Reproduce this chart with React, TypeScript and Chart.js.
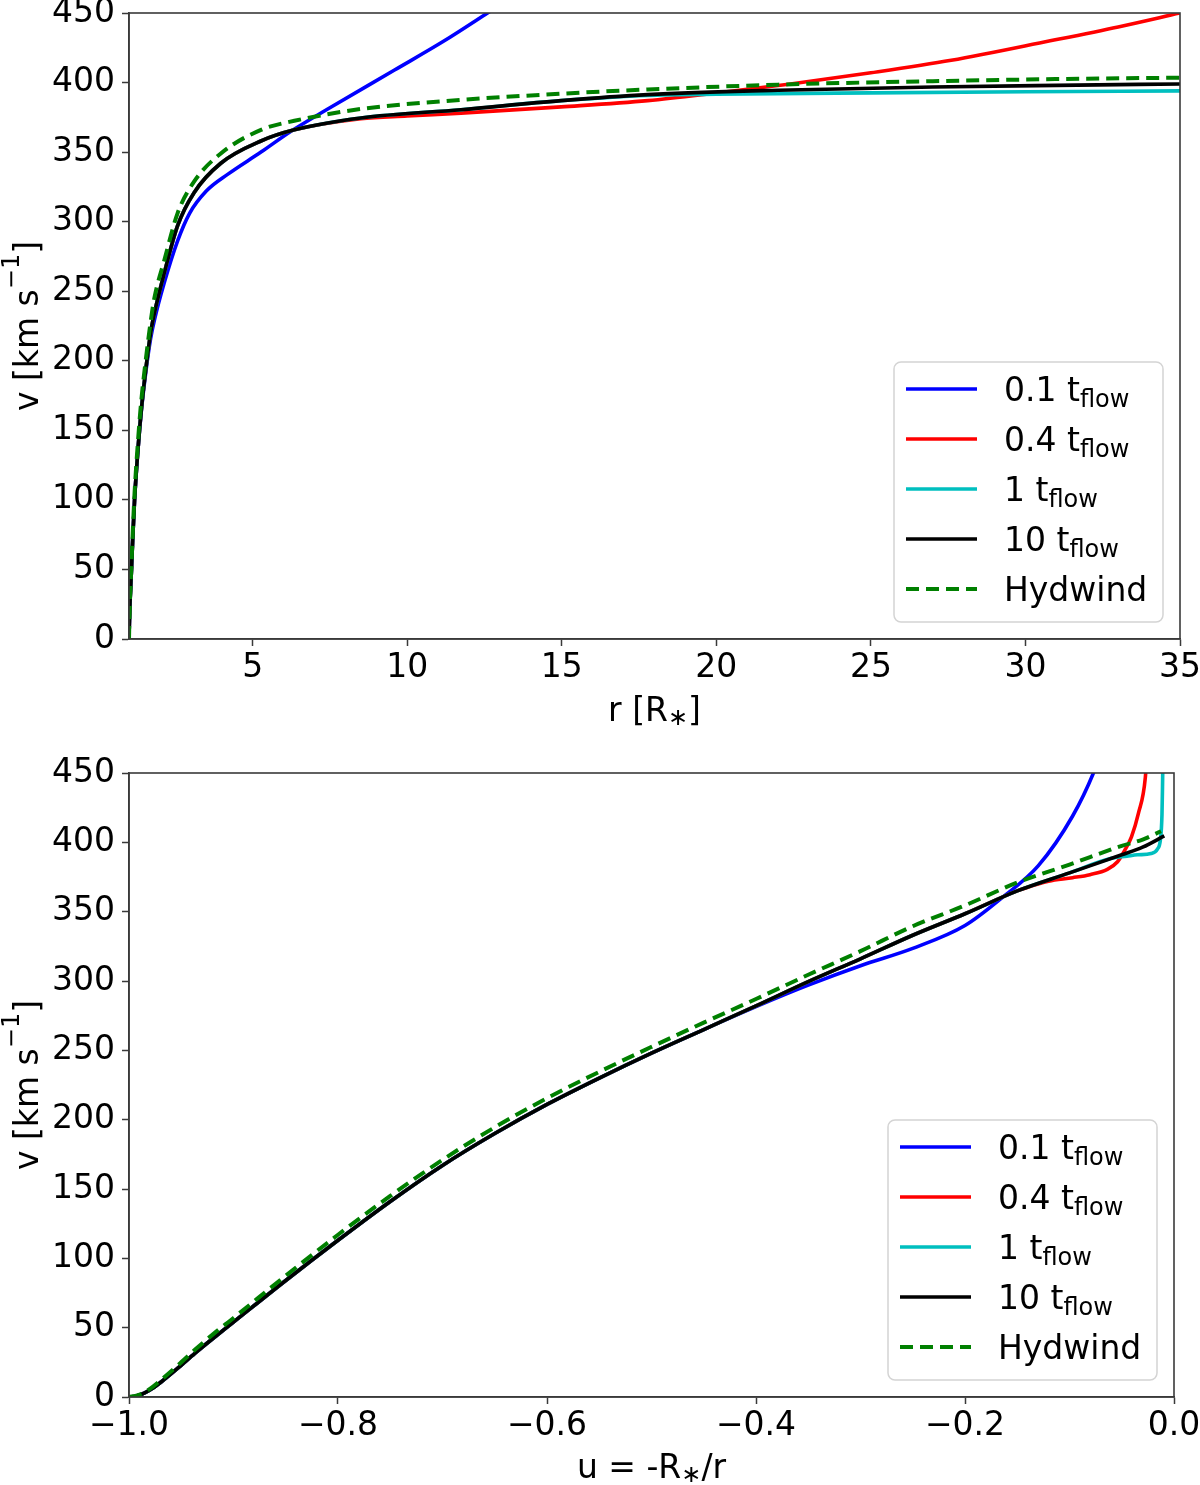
import React, { useEffect, useRef } from "react";
import { Chart, registerables } from "chart.js";

Chart.register(...registerables);

// ---------- legend / series labels ----------
const SERIES_MAIN = ["0.1 t", "0.4 t", "1 t", "10 t", "Hydwind"];
const SERIES_SUB = ["flow", "flow", "flow", "flow", ""];
const SERIES_COLORS = ["#0000ff", "#ff0000", "#00bfbf", "#000000", "#008000"];

// ---------- tick labels ----------
const Y_TICKS = [0, 50, 100, 150, 200, 250, 300, 350, 400, 450];
const TOP_X_TICKS = [5, 10, 15, 20, 25, 30, 35];
const BOT_X_TICKS = [-1.0, -0.8, -0.6, -0.4, -0.2, 0.0];

// ---------- top panel: v [km/s] vs r [R*] ----------
const TOP_BLUE_R = [1.0, 1.02, 1.07, 1.12, 1.18, 1.29, 1.4, 1.55, 1.7, 1.82, 2.14, 2.57, 2.96, 3.5, 4.19, 5.27, 6.24, 7.43, 9.59, 11.2, 12.6, 13.5];
const TOP_BLUE_V = [0, 18, 45, 72, 100, 136, 164, 193, 216, 229, 256, 286, 306, 322, 334, 350, 365, 381, 409, 430, 450, 463];

const TOP_RED_R = [1.0, 1.02, 1.07, 1.12, 1.18, 1.29, 1.4, 1.55, 1.7, 1.82, 2.14, 2.57, 3.11, 3.97, 5.27, 6.35, 8.5, 10, 11.74, 14.98, 17.78, 20, 22.4, 25, 27.6, 30.8, 33, 35];
const TOP_RED_V = [0, 18, 45, 72, 100, 136, 165, 195, 220, 234, 263, 297, 321, 342, 358, 366, 374, 376, 378, 382.5, 387, 392.5, 399, 407, 416, 430, 440, 450];

const TOP_CYAN_R = [1.0, 1.02, 1.07, 1.12, 1.18, 1.29, 1.4, 1.55, 1.7, 1.82, 2.14, 2.57, 3.11, 3.97, 5.27, 6.35, 8.5, 11.74, 14.98, 17.78, 20, 25, 30, 35];
const TOP_CYAN_V = [0, 18, 45, 72, 100, 136, 165, 195, 220, 234, 263, 297, 321, 342, 358, 366, 374.5, 380.5, 387, 390.8, 391.6, 392.6, 393.4, 394];

const TOP_BLACK_R = [1.0, 1.02, 1.07, 1.12, 1.18, 1.29, 1.4, 1.55, 1.7, 1.82, 2.14, 2.57, 3.11, 3.97, 5.27, 6.35, 8.5, 11.74, 14.98, 17.78, 22, 27, 31, 35];
const TOP_BLACK_V = [0, 18, 45, 72, 100, 136, 165, 195, 220, 234, 263, 297, 321, 342, 358, 366, 374.5, 380.5, 387, 391.3, 394.5, 396.8, 398, 399];

const TOP_GREEN_R = [1.0, 1.02, 1.07, 1.12, 1.18, 1.29, 1.4, 1.55, 1.7, 1.82, 2.14, 2.57, 3.11, 3.97, 5.27, 6.35, 8.5, 11.74, 14.98, 17.78, 22, 27, 31, 35];
const TOP_GREEN_V = [0, 20, 48, 76, 105, 142, 172, 202, 228, 245, 272, 306, 329, 349, 366, 372.5, 381, 387.5, 392, 395, 398.5, 401, 402.5, 403.5];

// ---------- bottom panel: v [km/s] vs u = -R*/r ----------
const BOT_BLACK_U = [-1.0, -0.993, -0.985, -0.977, -0.969, -0.953, -0.937, -0.92, -0.9, -0.85, -0.8, -0.75, -0.7, -0.65, -0.6, -0.55, -0.5, -0.45, -0.4, -0.35, -0.3, -0.25, -0.2, -0.15, -0.1, -0.05, -0.03, -0.0093];
const BOT_BLACK_V = [0, 0.8, 3, 6.5, 11, 21, 31.5, 42, 54, 84, 113, 141, 167, 190, 211, 230, 248, 265, 282, 299.5, 316, 333, 348.5, 365, 378, 391, 396.5, 404.6];

const BOT_GREEN_U = [-1.0, -0.993, -0.985, -0.977, -0.969, -0.953, -0.937, -0.92, -0.9, -0.85, -0.8, -0.75, -0.7, -0.65, -0.6, -0.55, -0.5, -0.45, -0.4, -0.35, -0.3, -0.25, -0.2, -0.15, -0.1, -0.05, -0.03, -0.0124];
const BOT_GREEN_V = [0, 1, 3.5, 7.5, 12.5, 23, 34, 45, 57, 87.5, 117, 145, 171, 194.5, 215.5, 234.5, 252.5, 270, 287, 304.5, 321.5, 339.5, 354.5, 371, 384, 397.5, 402, 408];

const BOT_BLUE_U = [-1.0, -0.993, -0.985, -0.977, -0.969, -0.953, -0.937, -0.92, -0.9, -0.85, -0.8, -0.75, -0.7, -0.65, -0.6, -0.55, -0.5, -0.45, -0.4, -0.35, -0.3, -0.25, -0.2, -0.163, -0.13, -0.097, -0.0771, -0.07];
const BOT_BLUE_V = [0, 0.8, 3, 6.5, 11, 21, 31.5, 42, 54, 84, 113, 141, 167, 190, 211, 230, 248, 265, 281.5, 297, 311, 323.5, 340, 361, 383, 419, 450, 465];

const BOT_RED_U = [-1.0, -0.993, -0.985, -0.977, -0.969, -0.953, -0.937, -0.92, -0.9, -0.85, -0.8, -0.75, -0.7, -0.65, -0.6, -0.55, -0.5, -0.45, -0.4, -0.35, -0.3, -0.25, -0.2, -0.15, -0.13, -0.12, -0.097, -0.0804, -0.0638, -0.054, -0.0473, -0.0407, -0.034, -0.0274, -0.0255];
const BOT_RED_V = [0, 0.8, 3, 6.5, 11, 21, 31.5, 42, 54, 84, 113, 141, 167, 190, 211, 230, 248, 265, 282, 299.5, 316, 333, 348.5, 365, 370, 372, 374.5, 376.7, 380.5, 386, 394, 404, 421, 447, 470];

const BOT_CYAN_U = [-1.0, -0.993, -0.985, -0.977, -0.969, -0.953, -0.937, -0.92, -0.9, -0.85, -0.8, -0.75, -0.7, -0.65, -0.6, -0.55, -0.5, -0.45, -0.4, -0.35, -0.3, -0.25, -0.2, -0.15, -0.1, -0.06, -0.045, -0.035, -0.022, -0.016, -0.013, -0.0115, -0.011, -0.0105];
const BOT_CYAN_V = [0, 0.8, 3, 6.5, 11, 21, 31.5, 42, 54, 84, 113, 141, 167, 190, 211, 230, 248, 265, 282, 299.5, 316, 333, 348.5, 365, 378, 388.5, 390, 391, 392, 395, 402, 420, 440, 465];

// ---------- styling ----------
const FONT = "'DejaVu Sans', sans-serif";
const FONT_SIZE = 33;
const SMALL_SIZE = 24;
const AXIS_COLOR = "#3a3a3a";

const pts = (xs: number[], ys: number[]) => xs.map((x, i) => ({ x, y: ys[i] }));

function fmtSigned(v: number): string {
  if (Math.abs(v) < 1e-9) return "0.0";
  return (v < 0 ? "\u2212" : "") + Math.abs(v).toFixed(1);
}

type Seg = { t: string; shift?: number };

function drawSegs(ctx: CanvasRenderingContext2D, segs: Seg[], cx: number, baseY: number) {
  const widths = segs.map((s) => {
    ctx.font = `${s.shift ? SMALL_SIZE : FONT_SIZE}px ${FONT}`;
    return ctx.measureText(s.t).width;
  });
  const total = widths.reduce((a, b) => a + b, 0);
  let x = cx - total / 2;
  segs.forEach((s, i) => {
    ctx.font = `${s.shift ? SMALL_SIZE : FONT_SIZE}px ${FONT}`;
    ctx.fillText(s.t, x, baseY + (s.shift || 0));
    x += widths[i];
  });
}

const framePlugin = {
  id: "frame",
  afterDatasetsDraw(chart: any) {
    const { ctx, chartArea } = chart;
    ctx.save();
    ctx.strokeStyle = AXIS_COLOR;
    ctx.lineWidth = 1.6;
    ctx.strokeRect(chartArea.left, chartArea.top, chartArea.right - chartArea.left, chartArea.bottom - chartArea.top);
    ctx.restore();
  },
};

const legendPlugin = {
  id: "subLegend",
  afterDraw(chart: any) {
    const { ctx, chartArea } = chart;
    const boxW = 269;
    const boxH = 260;
    const margin = 17;
    const x0 = chartArea.right - margin - boxW;
    const y0 = chartArea.bottom - margin - boxH;
    ctx.save();
    ctx.beginPath();
    (ctx as any).roundRect(x0, y0, boxW, boxH, 7);
    ctx.fillStyle = "rgba(255,255,255,0.85)";
    ctx.fill();
    ctx.strokeStyle = "#d4d4d4";
    ctx.lineWidth = 1.5;
    ctx.stroke();
    chart.data.datasets.forEach((ds: any, i: number) => {
      const ry = y0 + 27 + i * 50;
      ctx.beginPath();
      ctx.strokeStyle = ds.borderColor;
      ctx.lineWidth = ds.borderWidth;
      ctx.setLineDash(ds.borderDash || []);
      ctx.moveTo(x0 + 12, ry);
      ctx.lineTo(x0 + 83, ry);
      ctx.stroke();
      ctx.setLineDash([]);
      ctx.fillStyle = "#000";
      ctx.textBaseline = "alphabetic";
      ctx.textAlign = "left";
      ctx.font = `${FONT_SIZE}px ${FONT}`;
      const main = SERIES_MAIN[i];
      ctx.fillText(main, x0 + 110, ry + 12);
      const w = ctx.measureText(main).width;
      if (SERIES_SUB[i]) {
        ctx.font = `${SMALL_SIZE}px ${FONT}`;
        ctx.fillText(SERIES_SUB[i], x0 + 110 + w, ry + 18);
      }
    });
    ctx.restore();
  },
};

type Panel = {
  height: number;
  plotTop: number;
  plotBottom: number;
  plotLeft: number;
  plotRight: number;
  xMin: number;
  xMax: number;
  xTicks: number[];
  xFmt: (v: number) => string;
  xTitle: Seg[];
  xTitleBase: number;
  series: { x: number[]; y: number[] }[];
};

const Y_TITLE: Seg[] = [{ t: "v [km s" }, { t: "\u22121", shift: -19 }, { t: "]" }];

function titlesPlugin(p: Panel) {
  return {
    id: "axisTitles",
    afterDraw(chart: any) {
      const { ctx, chartArea } = chart;
      ctx.save();
      ctx.fillStyle = "#000";
      ctx.textAlign = "left";
      ctx.textBaseline = "alphabetic";
      drawSegs(ctx, p.xTitle, (chartArea.left + chartArea.right) / 2, p.xTitleBase);
      ctx.translate(38, (chartArea.top + chartArea.bottom) / 2);
      ctx.rotate(-Math.PI / 2);
      drawSegs(ctx, Y_TITLE, 0, 0);
      ctx.restore();
    },
  };
}

function makeDatasets(p: Panel) {
  const orders = [4, 3, 2, 1, 0];
  return p.series.map((s, i) => ({
    label: SERIES_MAIN[i] + (SERIES_SUB[i] ? "_" + SERIES_SUB[i] : ""),
    data: pts(s.x, s.y),
    borderColor: SERIES_COLORS[i],
    backgroundColor: SERIES_COLORS[i],
    borderWidth: i === 4 ? 4 : 3.6,
    borderDash: i === 4 ? [13, 7] : undefined,
    borderCapStyle: "butt",
    pointRadius: 0,
    pointHoverRadius: 0,
    fill: false,
    cubicInterpolationMode: "monotone",
    order: orders[i],
  }));
}

function buildConfig(p: Panel): any {
  const tickFont = { family: FONT, size: FONT_SIZE };
  return {
    type: "line",
    data: { datasets: makeDatasets(p) },
    plugins: [framePlugin, legendPlugin, titlesPlugin(p)],
    options: {
      animation: false,
      responsive: false,
      maintainAspectRatio: false,
      events: [],
      layout: { padding: { top: p.plotTop, right: 1200 - p.plotRight, left: 0, bottom: 0 } },
      plugins: { legend: { display: false }, tooltip: { enabled: false }, title: { display: false } },
      scales: {
        x: {
          type: "linear",
          min: p.xMin,
          max: p.xMax,
          afterBuildTicks: (s: any) => {
            s.ticks = p.xTicks.map((v) => ({ value: v }));
          },
          afterFit: (s: any) => {
            s.height = p.height - p.plotBottom;
            s.paddingLeft = 0;
            s.paddingRight = 0;
          },
          grid: { display: true, drawOnChartArea: false, drawTicks: true, tickLength: 7, tickWidth: 1.5, tickColor: AXIS_COLOR, color: AXIS_COLOR },
          border: { display: true, color: AXIS_COLOR, width: 1.6 },
          ticks: { color: "#000", font: tickFont, padding: 3, maxRotation: 0, autoSkip: false, callback: (v: any) => p.xFmt(Number(v)) },
          title: { display: false },
        },
        y: {
          type: "linear",
          min: 0,
          max: 450,
          afterBuildTicks: (s: any) => {
            s.ticks = Y_TICKS.map((v) => ({ value: v }));
          },
          afterFit: (s: any) => {
            s.width = p.plotLeft;
            s.paddingTop = 0;
            s.paddingBottom = 0;
          },
          grid: { display: true, drawOnChartArea: false, drawTicks: true, tickLength: 7, tickWidth: 1.5, tickColor: AXIS_COLOR, color: AXIS_COLOR },
          border: { display: true, color: AXIS_COLOR, width: 1.6 },
          ticks: { color: "#000", font: tickFont, padding: 7, autoSkip: false, callback: (v: any) => String(v) },
          title: { display: false },
        },
      },
    },
  };
}

const TOP_PANEL: Panel = {
  height: 740,
  plotTop: 13,
  plotBottom: 639,
  plotLeft: 129,
  plotRight: 1180,
  xMin: 1,
  xMax: 35,
  xTicks: TOP_X_TICKS,
  xFmt: (v) => String(v),
  xTitle: [{ t: "r [R" }, { t: "\u2217", shift: 4 }, { t: "]" }],
  xTitleBase: 721,
  series: [
    { x: TOP_BLUE_R, y: TOP_BLUE_V },
    { x: TOP_RED_R, y: TOP_RED_V },
    { x: TOP_CYAN_R, y: TOP_CYAN_V },
    { x: TOP_BLACK_R, y: TOP_BLACK_V },
    { x: TOP_GREEN_R, y: TOP_GREEN_V },
  ],
};

const BOT_PANEL: Panel = {
  height: 745,
  plotTop: 33,
  plotBottom: 657,
  plotLeft: 129,
  plotRight: 1174,
  xMin: -1,
  xMax: 0,
  xTicks: BOT_X_TICKS,
  xFmt: fmtSigned,
  xTitle: [{ t: "u = -R" }, { t: "\u2217", shift: 4 }, { t: "/r" }],
  xTitleBase: 738,
  series: [
    { x: BOT_BLUE_U, y: BOT_BLUE_V },
    { x: BOT_RED_U, y: BOT_RED_V },
    { x: BOT_CYAN_U, y: BOT_CYAN_V },
    { x: BOT_BLACK_U, y: BOT_BLACK_V },
    { x: BOT_GREEN_U, y: BOT_GREEN_V },
  ],
};

export default function App() {
  const topRef = useRef<HTMLCanvasElement>(null);
  const botRef = useRef<HTMLCanvasElement>(null);
  useEffect(() => {
    const c1 = new Chart(topRef.current as HTMLCanvasElement, buildConfig(TOP_PANEL));
    const c2 = new Chart(botRef.current as HTMLCanvasElement, buildConfig(BOT_PANEL));
    return () => {
      c1.destroy();
      c2.destroy();
    };
  }, []);
  return (
    <div style={{ position: "absolute", left: 0, top: 0, width: 1200, height: 1485, background: "#fff" }}>
      <canvas ref={topRef} width={1200} height={740} style={{ display: "block", width: 1200, height: 740 }} />
      <canvas ref={botRef} width={1200} height={745} style={{ display: "block", width: 1200, height: 745 }} />
    </div>
  );
}
